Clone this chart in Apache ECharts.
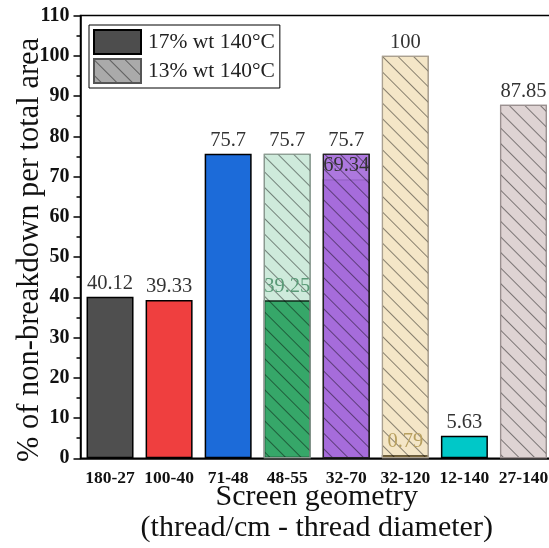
<!DOCTYPE html>
<html><head><meta charset="utf-8">
<script src="https://cdn.jsdelivr.net/npm/echarts@6/dist/echarts.min.js"></script>
<style>html,body{margin:0;padding:0;background:#fff}#c{width:549px;height:548px}</style>
</head><body><div id="c"></div>
<script>
const categories = ['180-27','100-40','71-48','48-55','32-70','32-120','12-140','27-140'];
const solidValues = [40.12, 39.33, 75.7, 39.25, 69.34, 0.79, 5.63, null];
const hatchedValues = [null, null, null, 75.7, 75.7, 100, null, 87.85];
const solidColors = ['#4f4f4f','#ef3f3f','#1c6bd9','#34a667','#a66ddb','#7d5c00','#00c8c8','#888'];
const hatchedColors = [null,null,null,'rgba(60,170,110,0.25)','rgba(166,109,219,0.92)','rgba(230,200,130,0.45)',null,'rgba(195,175,175,0.55)'];
const hatchedBorders = [null,null,null,'#8a9a90','#222','#aaa090',null,'#9a9090'];
const solidLabelColors = ['#333','#333','#333','#5a9a77','#333','#b8a060','#333','#333'];
const yTicks = {min:0, max:110, interval:10};

const serif = 'Liberation Serif';
const hatch = {symbol:'rect', symbolSize:1, dashArrayX:[1,0], dashArrayY:[1,10], rotation:Math.PI/4, color:'rgba(0,0,0,0.45)'};

const chart = echarts.init(document.getElementById('c'));
chart.setOption({
  animation:false,
  grid:{left:80.5, top:15.6, width:472.5, height:442.7, show:true, borderColor:'#000', borderWidth:1.5, containLabel:false, outerBoundsMode:'none'},
  legend:{
    orient:'vertical', left:89, top:25, padding:[4,5,4,4], itemGap:3,
    itemWidth:47, itemHeight:24, borderColor:'#000', borderWidth:1, icon:'rect',
    textStyle:{fontFamily:serif, fontSize:21.5, color:'#222', padding:[0,0,0,2]},
    data:['17% wt 140°C','13% wt 140°C']
  },
  xAxis:[{
    type:'category', data:categories, gridIndex:0, position:'bottom',
    axisLine:{lineStyle:{color:'#000', width:1.5}},
    axisTick:{alignWithLabel:true, length:6, lineStyle:{color:'#000', width:1.5}},
    axisLabel:{fontFamily:serif, fontWeight:'bold', fontSize:17.5, color:'#111', margin:11, interval:0},
    name:'Screen geometry\n(thread/cm - thread diameter)', nameLocation:'middle', nameGap:23, nameMoveOverlap:false,
    nameTextStyle:{fontFamily:serif, fontSize:30, color:'#111', lineHeight:31}
  },{
    type:'category', data:categories, gridIndex:0, position:'bottom',
    axisLine:{show:false}, axisLabel:{show:false},
    axisTick:{length:3, lineStyle:{color:'#000', width:1.5}}
  }],
  yAxis:{
    type:'value', min:yTicks.min, max:yTicks.max, interval:yTicks.interval,
    axisLine:{show:true, lineStyle:{color:'#000', width:1.5}},
    axisTick:{show:true, length:7, lineStyle:{color:'#000', width:1.5}},
    minorTick:{show:true, splitNumber:2, length:4, lineStyle:{color:'#000', width:1.5}},
    splitLine:{show:false},
    axisLabel:{fontFamily:serif, fontWeight:'bold', fontSize:20, color:'#111', margin:11},
    name:'% of non-breakdown per total area', nameLocation:'middle', nameGap:35, nameMoveOverlap:false,
    nameTextStyle:{fontFamily:serif, fontSize:30.5, color:'#111', padding:[0,26,0,0]}
  },
  series:[{
    name:'17% wt 140°C', type:'bar', barWidth:47, barGap:'-100%',
    itemStyle:{color:'#4d4d4d', borderColor:'#000', borderWidth:1.5},
    label:{show:true, position:'top', distance:3, fontFamily:serif, fontSize:20.5},
    data:solidValues.map((v,i)=> v==null ? '-' : {value:v, itemStyle:{color:solidColors[i]}, label:{color:solidLabelColors[i]}})
  },{
    name:'13% wt 140°C', type:'bar', barWidth:47, barGap:'-100%',
    itemStyle:{color:'#aaaaaa', borderColor:'#555', borderWidth:1.2, decal:hatch},
    label:{show:true, position:'top', distance:3, fontFamily:serif, fontSize:20.5, color:'#333'},
    data:hatchedValues.map((v,i)=> v==null ? '-' : {value:v, itemStyle:{color:hatchedColors[i], borderColor:hatchedBorders[i], decal:hatch}})
  }]
});
</script></body></html>
